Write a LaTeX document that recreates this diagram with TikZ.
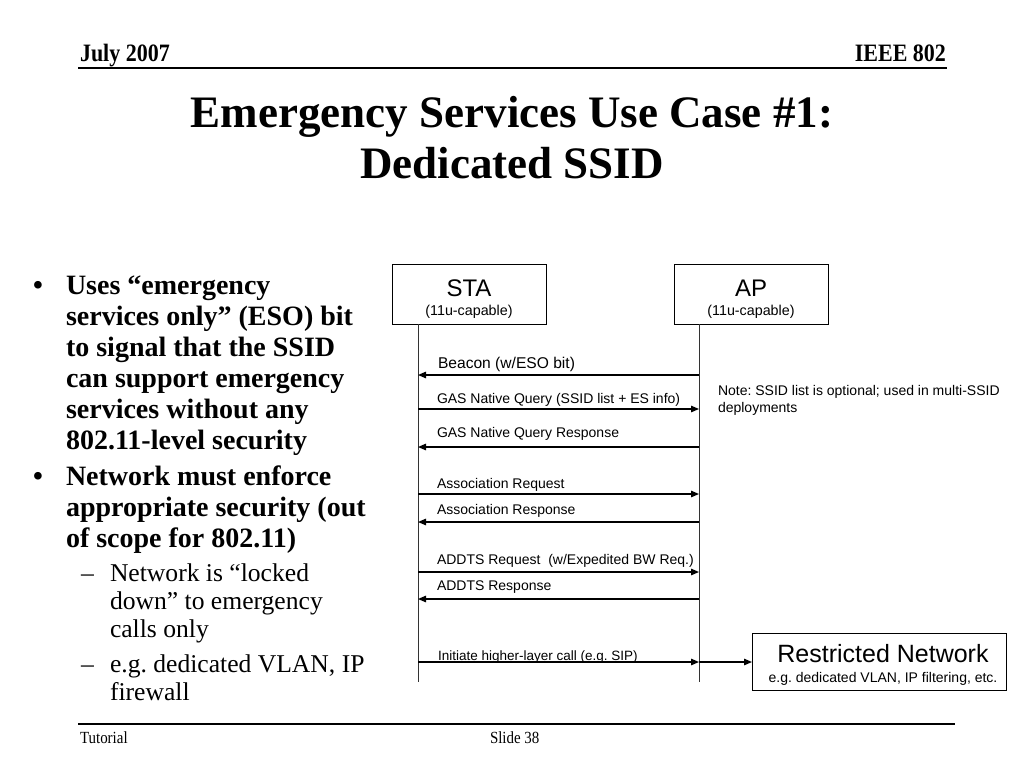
\documentclass[tikz,border=0pt]{standalone}
\usepackage{fontspec}
\setmainfont{Liberation Serif}
\newfontfamily\arial{Liberation Sans}
\newfontfamily\condserif[FakeStretch=0.88]{Liberation Serif}
\usetikzlibrary{arrows.meta}
\frenchspacing
\begin{document}
\frenchspacing
\begin{tikzpicture}[x=1pt,y=-1pt,
  every node/.style={inner sep=0pt, outer sep=0pt},
  hdr/.style={font=\condserif\bfseries\fontsize{25}{28}\selectfont, anchor=base west},
  ftr/.style={font=\condserif\fontsize{17}{20}\selectfont, anchor=base west},
  ttl/.style={font=\bfseries\fontsize{45}{50}\selectfont, anchor=base},
  blt/.style={font=\bfseries\fontsize{28}{31}\selectfont, anchor=base west},
  sub/.style={font=\fontsize{25.6}{28}\selectfont, anchor=base west},
  ent/.style={draw, line width=0.9pt, minimum width=154pt, minimum height=60pt},
  big/.style={font=\arial\fontsize{24}{26}\selectfont, anchor=base},
  small/.style={font=\arial\fontsize{14.3}{16}\selectfont, anchor=base},
  lbl/.style={font=\arial\fontsize{14}{16}\selectfont, anchor=base west},
  life/.style={line width=1pt, draw=black!80},
  msg/.style={line width=1.3pt, -{Triangle[length=8pt,width=6.5pt]}},
  rule/.style={line width=1.5pt}
]
\useasboundingbox (0,0) rectangle (1024,768);
\fill[white] (0,0) rectangle (1024,768);

% header
\node[hdr] (hl) at (80,62) {July 2007};
\node[hdr, anchor=base east] (hr) at (946,62) {IEEE 802};
\coordinate (h1) at (78,68);
\coordinate (h2) at (947,68);
\draw[rule] (h1) -- (h2);

% title
\node[ttl] (t1) at (512,127) {Emergency Services Use Case \#1:};
\node[ttl] (t2) at (512,178) {Dedicated SSID};

% bullets
\node[blt] (b1) at (33,294) {•};
\node[blt] (b1a) at (66,294) {Uses “emergency};
\node[blt] (b1b) at (66,325) {services only” (ESO) bit};
\node[blt] (b1c) at (66,356) {to signal that the SSID};
\node[blt] (b1d) at (66,387) {can support emergency};
\node[blt] (b1e) at (66,418) {services without any};
\node[blt] (b1f) at (66,449) {802.11-level security};
\node[blt] (b2) at (33,485) {•};
\node[blt] (b2a) at (66,485) {Network must enforce};
\node[blt] (b2b) at (66,516) {appropriate security (out};
\node[blt] (b2c) at (66,547) {of scope for 802.11)};
\node[sub] (s1) at (81,581) {–};
\node[sub] (s1a) at (110,581) {Network is “locked};
\node[sub] (s1b) at (110,609) {down” to emergency};
\node[sub] (s1c) at (110,637) {calls only};
\node[sub] (s2) at (81,672) {–};
\node[sub] (s2a) at (110,672) {e.g. dedicated VLAN, IP};
\node[sub] (s2b) at (110,700) {firewall};

% entities
\node[ent] (sta) at (469,294) {};
\node[big] (staT) at (469,296) {STA};
\node[small] (staS) at (469,315) {(11u-capable)};
\node[ent] (ap) at (751,294) {};
\node[big] (apT) at (751,296) {AP};
\node[small] (apS) at (751,315) {(11u-capable)};

% lifelines
\coordinate (sl0) at (418,324);
\coordinate (sl1) at (418,682);
\coordinate (al0) at (699,324);
\coordinate (al1) at (699,682);
\draw[life] (sl0) -- (sl1);
\draw[life] (al0) -- (al1);

% messages
\coordinate (m1) at (0,375);
\coordinate (m2) at (0,409);
\coordinate (m3) at (0,447);
\coordinate (m4) at (0,494);
\coordinate (m5) at (0,522);
\coordinate (m6) at (0,572);
\coordinate (m7) at (0,599);

\draw[msg] (al0 |- m1) -- (sl0 |- m1);
\node[lbl, font=\arial\fontsize{15.6}{18}\selectfont] (l1) at (438,368) {Beacon (w/ESO bit)};
\draw[msg] (sl0 |- m2) -- (al0 |- m2);
\node[lbl] (l2) at (437,403) {GAS Native Query (SSID list + ES info)};
\draw[msg] (al0 |- m3) -- (sl0 |- m3);
\node[lbl] (l3) at (437,437) {GAS Native Query Response};
\draw[msg] (sl0 |- m4) -- (al0 |- m4);
\node[lbl] (l4) at (437,488) {Association Request};
\draw[msg] (al0 |- m5) -- (sl0 |- m5);
\node[lbl] (l5) at (437,514) {Association Response};
\draw[msg] (sl0 |- m6) -- (al0 |- m6);
\node[lbl] (l6) at (437,564) {ADDTS Request~ (w/Expedited BW Req.)};
\draw[msg] (al0 |- m7) -- (sl0 |- m7);
\node[lbl] (l7) at (437,590) {ADDTS Response};

% note
\node[lbl] (n1) at (718,395) {Note: SSID list is optional; used in multi-SSID};
\node[lbl] (n2) at (718,412) {deployments};

% restricted network
\node[draw, line width=0.9pt, minimum width=254pt, minimum height=57pt] (rn) at (879,662) {};
\node[font=\arial\fontsize{25}{28}\selectfont, anchor=base] (rnT) at (883,662) {Restricted Network};
\node[font=\arial\fontsize{14}{16}\selectfont, anchor=base] (rnS) at (883,682) {e.g. dedicated VLAN, IP filtering, etc.};

\draw[msg] (sl0 |- rn.west) -- (al0 |- rn.west);
\draw[msg] (al0 |- rn.west) -- (rn.west);
\node[font=\arial\fontsize{13.5}{16}\selectfont, anchor=base west] (l8) at (438,660) {Initiate higher-layer call (e.g. SIP)};

% footer
\coordinate (f1) at (78,724);
\coordinate (f2) at (955,724);
\draw[rule] (f1) -- (f2);
\node[ftr] (fl) at (80,743) {Tutorial};
\node[ftr] (fc) at (490,743) {Slide 38};
\end{tikzpicture}
\end{document}
